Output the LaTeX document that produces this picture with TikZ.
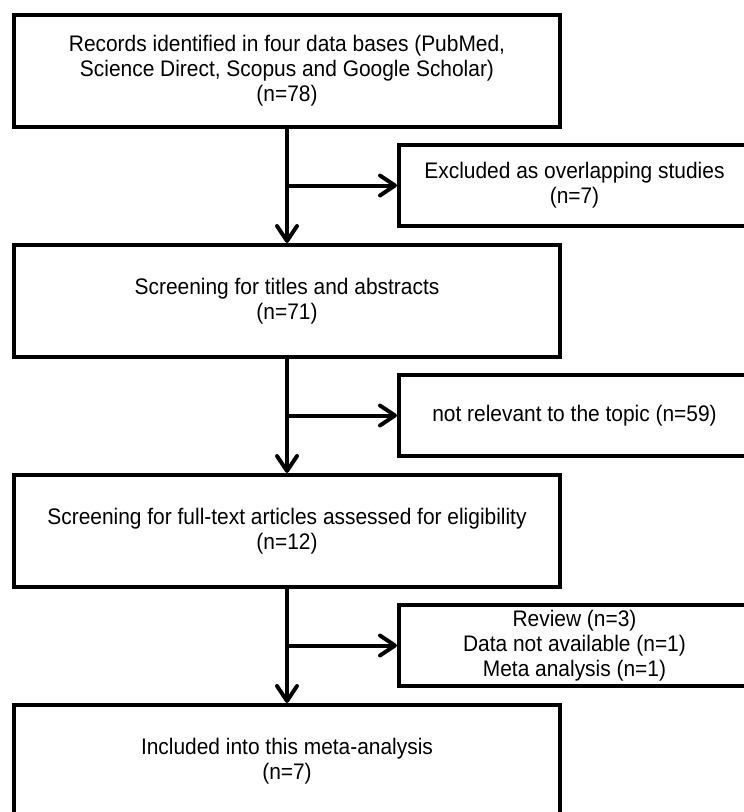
\documentclass[tikz,border=0pt]{standalone}
\usepackage{fontspec}
\setmainfont[FakeStretch=0.93]{Liberation Sans}
\usetikzlibrary{arrows.meta}
\tikzset{
  mainbox/.style={draw, line width=4pt, rectangle, inner sep=0pt,
    minimum width=546pt, minimum height=112pt, align=center,
    font=\fontsize{22.5}{25}\selectfont},
  sidebox/.style={draw, line width=4pt, rectangle, inner sep=0pt,
    minimum width=351pt, minimum height=81pt, align=center,
    font=\fontsize{22.5}{25}\selectfont},
  flow/.style={line width=4pt, -{Straight Barb[length=15pt,width=20pt,round]}}
}
\begin{document}
\begin{tikzpicture}[x=1pt,y=-1pt]
\useasboundingbox[fill=white] (0,0) rectangle (744,812);
\node[mainbox] (b1) at (287,71) {Records identified in four data bases (PubMed,\\Science Direct, Scopus and Google Scholar)\\(n=78)};
\node[sidebox] (s1) at (574.5,185.5) {Excluded as overlapping studies\\(n=7)};
\node[mainbox] (b2) at (287,301) {Screening for titles and abstracts\\(n=71)};
\node[sidebox] (s2) at (574.5,415.5) {not relevant to the topic (n=59)};
\node[mainbox] (b3) at (287,531) {Screening for full-text articles assessed for eligibility\\(n=12)};
\node[sidebox] (s3) at (574.5,645.5) {Review (n=3)\\Data not available (n=1)\\Meta analysis (n=1)};
\node[mainbox] (b4) at (287,761) {Included into this meta-analysis\\(n=7)};
\coordinate (j1) at (b1.south |- s1.west);
\coordinate (j2) at (b2.south |- s2.west);
\coordinate (j3) at (b3.south |- s3.west);
\draw[flow] (b1.south) -- (b2.north);
\draw[flow] (b2.south) -- (b3.north);
\draw[flow] (b3.south) -- (b4.north);
\draw[flow] (j1) -- (s1.west);
\draw[flow] (j2) -- (s2.west);
\draw[flow] (j3) -- (s3.west);
\end{tikzpicture}
\end{document}
